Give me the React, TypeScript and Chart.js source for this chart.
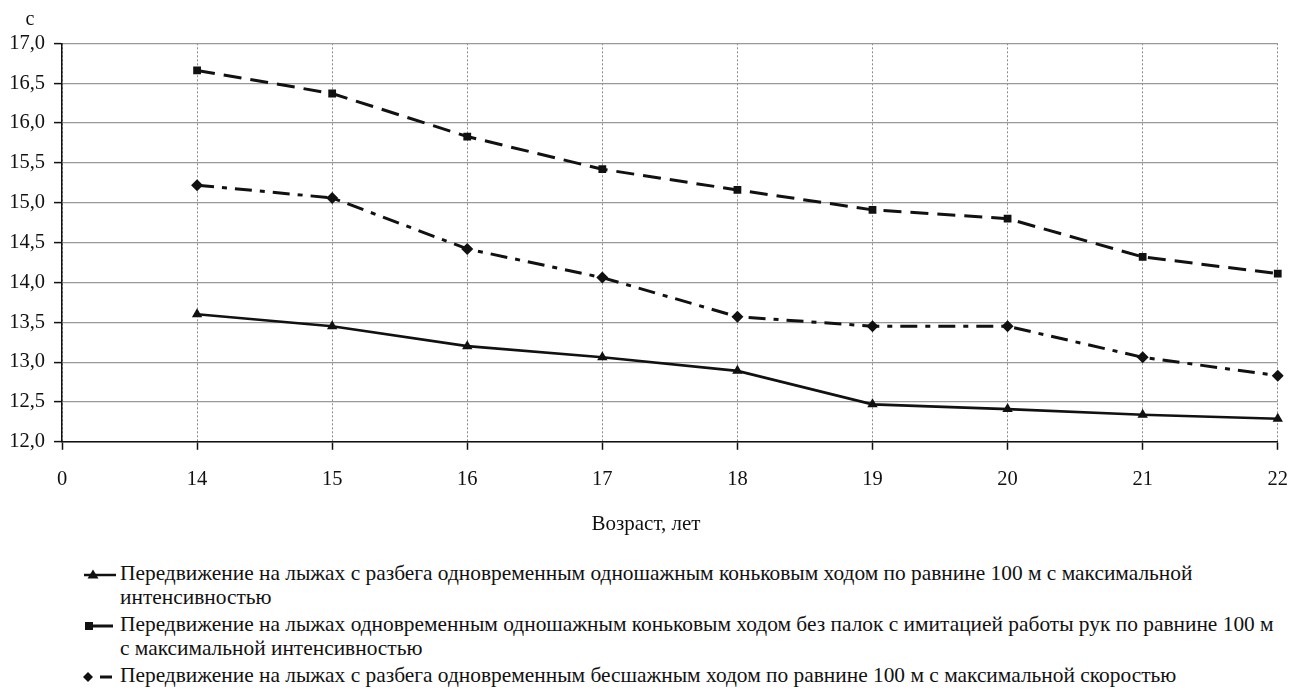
import React, { useEffect, useRef } from "react";
import { Chart, registerables } from "chart.js";

Chart.register(...registerables);

const FONT = '"Liberation Serif"';

const ageLabels = ["0", "14", "15", "16", "17", "18", "19", "20", "21", "22"];
const skatingRun = [null, 13.6, 13.45, 13.2, 13.06, 12.89, 12.47, 12.41, 12.34, 12.29];
const noPoles = [null, 16.66, 16.37, 15.83, 15.42, 15.16, 14.91, 14.8, 14.32, 14.11];
const noStep = [null, 15.22, 15.06, 14.42, 14.06, 13.57, 13.45, 13.45, 13.06, 12.83];

const seriesNames = [
  "Передвижение на лыжах с разбега одновременным одношажным коньковым ходом по равнине 100 м с максимальной интенсивностью",
  "Передвижение на лыжах одновременным одношажным коньковым ходом без палок с имитацией работы рук по равнине 100 м с максимальной интенсивностью",
  "Передвижение на лыжах с разбега одновременным бесшажным ходом по равнине 100 м с максимальной скоростью",
];

const yMin = 12;
const yMax = 17;
const yStep = 0.5;
const yUnit = "с";
const xTitle = "Возраст, лет";

const annotationsPlugin = {
  id: "extraText",
  afterDraw(chart: any) {
    const ctx = chart.ctx;
    ctx.save();
    ctx.fillStyle = "#111";
    ctx.textAlign = "center";
    ctx.textBaseline = "alphabetic";
    ctx.font = `20px ${FONT}`;
    ctx.fillText(yUnit, 22, 17);
    ctx.font = `21px ${FONT}`;
    ctx.fillText(xTitle, 638, 522);
    ctx.restore();
  },
};

function LegendSample({ idx }: { idx: number }) {
  if (idx === 0) {
    return (
      <svg width="40" height="14" style={{ display: "block" }}>
        <line x1="6" y1="7" x2="38" y2="7" stroke="#111" strokeWidth="2.5" />
        <polygon points="15,1.5 20.5,10.5 9.5,10.5" fill="#111" />
      </svg>
    );
  }
  if (idx === 1) {
    return (
      <svg width="40" height="14" style={{ display: "block" }}>
        <rect x="7" y="3" width="8" height="8" fill="#111" />
        <line x1="15" y1="7" x2="35" y2="7" stroke="#111" strokeWidth="3" />
      </svg>
    );
  }
  return (
    <svg width="40" height="14" style={{ display: "block" }}>
      <polygon points="10,2 15,7 10,12 5,7" fill="#111" />
      <line x1="22" y1="7" x2="34" y2="7" stroke="#111" strokeWidth="3" />
    </svg>
  );
}

export default function App() {
  const canvasRef = useRef<HTMLCanvasElement | null>(null);

  useEffect(() => {
    let chart: Chart | null = null;
    let cancelled = false;
    const build = () => {
      if (cancelled || !canvasRef.current) return;
      const ctx = canvasRef.current.getContext("2d");
      if (!ctx) return;
      chart = new Chart(ctx, {
        type: "line",
        data: {
          labels: ageLabels,
          datasets: [
            {
              label: seriesNames[0],
              data: skatingRun,
              borderColor: "#111",
              backgroundColor: "#111",
              borderWidth: 2.6,
              pointStyle: "triangle",
              pointRadius: 6,
              pointBorderWidth: 0,
              tension: 0,
            },
            {
              label: seriesNames[1],
              data: noPoles,
              borderColor: "#111",
              backgroundColor: "#111",
              borderWidth: 3,
              borderDash: [18, 9],
              pointStyle: ["triangle", "rect", "rect", "rect", "rect", "rect", "rect", "rect", "rect", "rect"] as any,
              pointRadius: 5.5,
              pointBorderWidth: 0,
              tension: 0,
            },
            {
              label: seriesNames[2],
              data: noStep,
              borderColor: "#111",
              backgroundColor: "#111",
              borderWidth: 3,
              borderDash: [17, 8, 5, 8],
              pointStyle: "rectRot",
              pointRadius: 6,
              pointBorderWidth: 0,
              tension: 0,
            },
          ],
        },
        options: {
          animation: false,
          responsive: false,
          events: [],
          layout: { padding: { top: 35.3, right: 14.7, left: 0, bottom: 0 } },
          plugins: {
            legend: { display: false },
            tooltip: { enabled: false },
          },
          scales: {
            x: {
              type: "category",
              offset: false,
              afterFit: (s: any) => {
                s.height = 106.2;
              },
              grid: {
                color: "#8a8a8a",
                lineWidth: 1,
                tickLength: 8,
                tickColor: "#111",
                tickWidth: 1.5,
                tickBorderDash: [],
              },
              border: { display: true, color: "#111", width: 1.5, dash: [2, 2] },
              ticks: {
                color: "#111",
                font: { family: FONT, size: 20.5 },
                padding: 18,
                maxRotation: 0,
                autoSkip: false,
              },
            },
            y: {
              type: "linear",
              min: yMin,
              max: yMax,
              afterFit: (s: any) => {
                s.width = 54;
              },
              grid: {
                color: "#999999",
                lineWidth: 1.2,
                tickLength: 8,
                tickColor: "#111",
                tickWidth: 1.5,
              },
              border: { display: true, color: "#111", width: 1.5 },
              ticks: {
                stepSize: yStep,
                color: "#111",
                font: { family: FONT, size: 20.5 },
                padding: 9,
                callback: (v: any) => Number(v).toFixed(1).replace(".", ","),
              },
            },
          },
        },
        plugins: [annotationsPlugin],
      });
    };
    const fonts: any = (document as any).fonts;
    if (fonts && fonts.load) {
      fonts.load(`20px ${FONT}`, "Передвижение 0123456789,").then(build, build);
    } else {
      build();
    }
    return () => {
      cancelled = true;
      if (chart) chart.destroy();
    };
  }, []);

  return (
    <div style={{ position: "relative", width: 1298, height: 679, fontFamily: FONT }}>
      <canvas ref={canvasRef} width={1298} height={540} style={{ display: "block" }} />
      <div style={{ position: "absolute", top: 553, left: 70, width: 1230 }}>
        {seriesNames.map((name, i) => (
          <div key={i} style={{ display: "flex", alignItems: "flex-start", marginTop: i === 0 ? 0 : 3 }}>
            <div style={{ width: 42, paddingTop: 7 }}>
              <LegendSample idx={i} />
            </div>
            <div style={{ fontSize: 21.4, lineHeight: "24px", color: "#111", width: 1155, fontFamily: FONT }}>{name}</div>
          </div>
        ))}
      </div>
    </div>
  );
}
